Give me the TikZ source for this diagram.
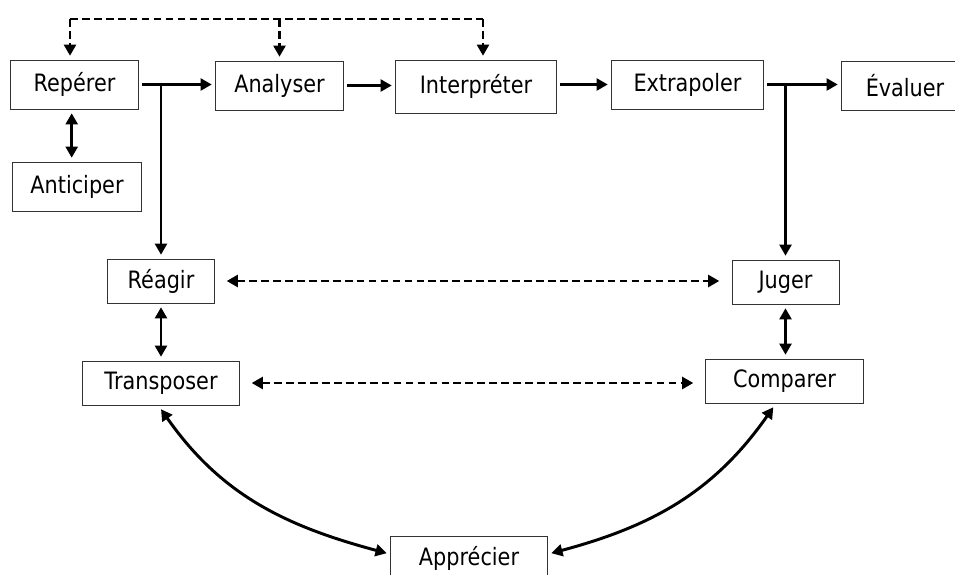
\documentclass[tikz,border=0pt]{standalone}
\usepackage{fontspec}
\setmainfont{DejaVu Sans}[FakeStretch=0.87]
\usetikzlibrary{arrows.meta}
\begin{document}
\begin{tikzpicture}
    [
    x=0.025cm, y=-0.025cm,
    box/.style={draw=black!80, line width=0.7pt, minimum height=1.225cm, inner sep=0pt, outer sep=3pt,
      font=\fontsize{17}{20}\selectfont},
    arr/.style={line width=2.1pt, -{Triangle[length=8pt,width=8.5pt]}},
    both/.style={line width=2.1pt, {Triangle[length=8pt,width=8.5pt]}-{Triangle[length=8pt,width=8.5pt]}},
    dash line/.style={line width=2pt, dash pattern=on 5.5pt off 3pt}
    ]
    \useasboundingbox (0,0) rectangle (955,574);
    \node (rep) at (74.5,84.5) [box, minimum width=3.175cm] {Repérer};
    \node (ant) at (77,186.5) [box, minimum width=3.2cm] {Anticiper};
    \node (ana) at (279.5,85.5) [box, minimum width=3.175cm] {Analyser};
    \node (int) at (476,86.5) [box, minimum width=4cm, minimum height=1.325cm] {Interpréter};
    \node (ext) at (687.5,84.5) [box, minimum width=3.775cm] {Extrapoler};
    \node (eva) at (905,85.5) [box, minimum width=3.15cm] {Évaluer};
    \node (rea) at (161,281) [box, minimum width=2.65cm, minimum height=1.1cm] {Réagir};
    \node (tra) at (161,383) [box, minimum width=3.9cm, minimum height=1.1cm] {Transposer};
    \node (jug) at (785.5,282) [box, minimum width=2.675cm, minimum height=1.1cm] {Juger};
    \node (cmp) at (784.5,381) [box, minimum width=3.925cm, minimum height=1.1cm] {Comparer};
    \node (app) at (469,558) [box, minimum width=3.9cm, minimum height=1.1cm] {Apprécier};
    % dashed feedback on top
    \coordinate (d1) at (70,19);
    \coordinate (d2) at (279.5,19);
    \coordinate (d3) at (483,19);
    \draw [dash line] (d1) -- (d3);
    \draw [dash line, arr] (d1) -- (d1 |- rep.north);
    \draw [dash line, arr] (d2) -- (d2 |- ana.north);
    \draw [dash line, arr] (d3) -- (d3 |- int.north);
    % main chain
    \draw [arr] (rep.east) -- (rep.east -| ana.west);
    \draw [arr] (rep.east -| rea.north) -- (rea.north);
    \draw [arr] (ana.east) -- (ana.east -| int.west);
    \draw [arr] (ext.west -| int.east) -- (ext.west);
    \draw [arr] (ext.east) -- (ext.east -| eva.west);
    \draw [arr] (ext.east -| jug.north) -- (jug.north);
    \draw [both] ([xshift=-0.07cm]rep.south) -- ([xshift=-0.07cm]rep.south |- ant.north);
    \draw [both] (rea.south) -- (tra.north);
    \draw [both] (jug.south) -- (jug.south |- cmp.north);
    % dashed links across
    \draw [dash line, both, shorten <=6pt, shorten >=6pt] (rea.east) -- (rea.east -| jug.west);
    \draw [dash line, both, shorten <=6pt, shorten >=6pt] (tra.east) -- (tra.east -| cmp.west);
    % curves to Apprécier
    \draw [both] (tra.south) to [out=-55, in=165] ([yshift=0.12cm]app.west);
    \draw [both] ([xshift=-0.28cm]cmp.south) to [out=-125, in=15] ([yshift=0.12cm]app.east);
\end{tikzpicture}
\end{document}
